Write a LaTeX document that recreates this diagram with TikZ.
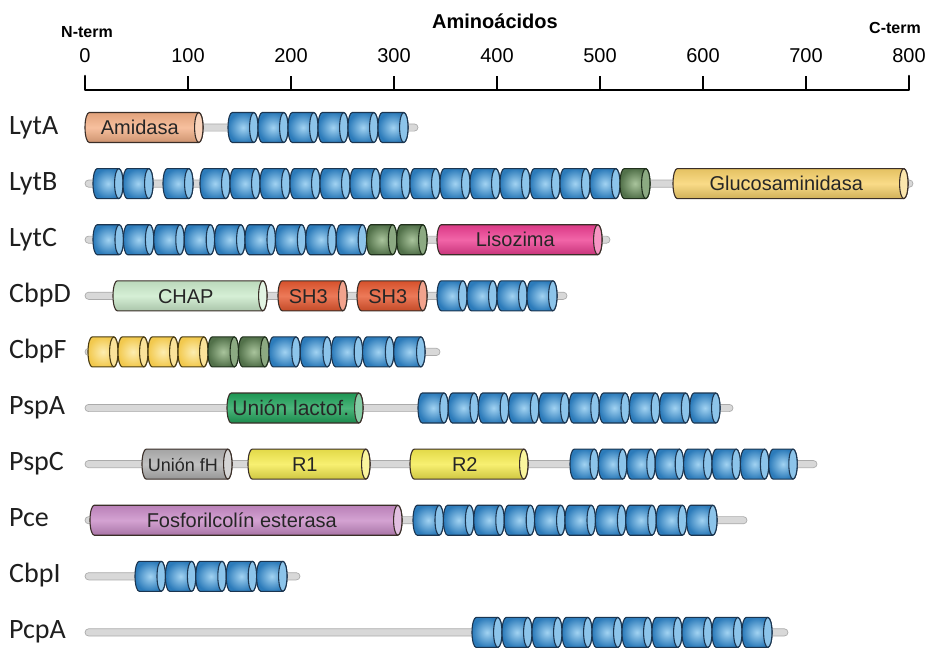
\documentclass[tikz,border=0pt]{standalone}
\usepackage{fontspec}
\setmainfont{Liberation Sans}
\newfontfamily\lblfont{Carlito}

% palette
\definecolor{blueO}{HTML}{1B3550}
\definecolor{blueM}{HTML}{2C7BBA}
\definecolor{blueL}{HTML}{A2D3F2}
\definecolor{blueCap}{HTML}{8CC4EA}
\definecolor{grnO}{HTML}{20301C}
\definecolor{grnM}{HTML}{52714A}
\definecolor{grnL}{HTML}{A9C49C}
\definecolor{grnCap}{HTML}{8CAA82}
\definecolor{yelO}{HTML}{4A3C12}
\definecolor{yelM}{HTML}{F2C94E}
\definecolor{yelL}{HTML}{FCEDB0}
\definecolor{yelCap}{HTML}{FAE39A}
\definecolor{linkF}{HTML}{D8D8D8}
\definecolor{linkD}{HTML}{ABABAB}
\definecolor{amiC}{HTML}{F5B086}
\definecolor{gluC}{HTML}{F8D26A}
\definecolor{lisC}{HTML}{EE3E92}
\definecolor{chapC}{HTML}{CBEBCB}
\definecolor{shC}{HTML}{E8582F}
\definecolor{lacC}{HTML}{1FA35A}
\definecolor{fhC}{HTML}{B2B2B2}
\definecolor{rC}{HTML}{F6EC4E}
\definecolor{fosC}{HTML}{C98BC7}
\definecolor{domO}{HTML}{3A2E28}

\newcommand\rx{4.2}
\newcommand\hh{15}

% one cylinder: x1, x2, y, body style, cap style
\newcommand\ProtSeg[5]{%
  \path[seg,#4] (#1+\rx,#3+\hh) -- (#2-\rx,#3+\hh)
    arc[start angle=90,end angle=-90,x radius=\rx,y radius=\hh]
    -- (#1+\rx,#3-\hh)
    arc[start angle=270,end angle=90,x radius=\rx,y radius=\hh] -- cycle;
  \path[seg,#5] (#2-\rx,#3) ellipse[x radius=\rx,y radius=\hh];
}
% run of n equal cylinders: x0, width, n, y, body style, cap style
\newcommand\ProtReps[6]{%
  \foreach \i in {1,...,#3}{%
    \pgfmathsetmacro\xa{#1+(\i-1)*#2}%
    \pgfmathsetmacro\xb{#1+\i*#2}%
    \ProtSeg{\xa}{\xb}{#4}{#5}{#6}%
  }%
}
% linker bar: x1, x2, y
\newcommand\ProtLink[3]{%
  \path[link] (#1,#3-3.6) rectangle (#2,#3+3.6);
}
% labelled domain: name, x1, x2, y, colour, text
\newcommand\ProtDom[6]{%
  \ProtSeg{#2}{#3}{#4}{draw=domO,top color=#5!92!black,bottom color=#5!84!black,middle color=#5!80!white}{draw=domO,fill=#5!55!white}
  \node[domtext] (#1) at ({(#2+#3)/2-\rx},#4-7.2) {#6};
}

\tikzset{
  seg/.style={line width=1.1pt,line join=round},
  blueB/.style={draw=blueO,inner color=blueL,outer color=blueM},
  blueC/.style={draw=blueO,fill=blueCap},
  grnB/.style={draw=grnO,inner color=grnL,outer color=grnM},
  grnC/.style={draw=grnO,fill=grnCap},
  yelB/.style={draw=yelO,inner color=yelL,outer color=yelM},
  yelC/.style={draw=yelO,fill=yelCap},
  link/.style={fill=linkF,draw=linkD,line width=0.7pt,rounded corners=3.6},
  domtext/.style={anchor=base,inner sep=0pt,font=\fontsize{20}{20}\selectfont,text=black!85},
  rowlabel/.style={anchor=base west,inner sep=0pt,font=\lblfont\fontsize{28}{28}\selectfont,text=black!88},
  ticklabel/.style={anchor=base,inner sep=0pt,font=\fontsize{20}{20}\selectfont},
}

\begin{document}
\begin{tikzpicture}[x=1pt,y=1pt]
\useasboundingbox (0,0) rectangle (935,-648);

% ---- amino-acid scale ----
\node[anchor=base,inner sep=0pt,font=\bfseries\fontsize{20}{20}\selectfont] (aa) at (495,-28) {Aminoácidos};
\node[anchor=base,inner sep=0pt,font=\bfseries\fontsize{16}{16}\selectfont] (nterm) at (87,-37) {N-term};
\node[anchor=base,inner sep=0pt,font=\bfseries\fontsize{16}{16}\selectfont] (cterm) at (895,-33) {C-term};
\draw[line width=2.6pt,line cap=round,line join=round] (85,-76) -- (85,-90) -- (909,-90) -- (909,-76);
\foreach \v in {1,...,7}{\draw[line width=2pt] (85+\v*103,-90) -- ++(0,14);}
\foreach \v in {0,...,8}{%
  \pgfmathtruncatemacro\lab{\v*100}%
  \node[ticklabel] (tick\v) at (85+\v*103,-62) {\lab};
}

% ---- row labels ----
\node[rowlabel] (lLytA) at (9,-134) {LytA};
\node[rowlabel] (lLytB) at (9,-190.1) {LytB};
\node[rowlabel] (lLytC) at (9,-246.2) {LytC};
\node[rowlabel] (lCbpD) at (9,-302.3) {CbpD};
\node[rowlabel] (lCbpF) at (9,-358.4) {CbpF};
\node[rowlabel] (lPspA) at (9,-414.5) {PspA};
\node[rowlabel] (lPspC) at (9,-470.6) {PspC};
\node[rowlabel] (lPce) at (9,-526.7) {Pce};
\node[rowlabel] (lCbpI) at (9,-582.8) {CbpI};
\node[rowlabel] (lPcpA) at (9,-638.9) {PcpA};

% ---- LytA ----
\ProtLink{85}{418}{-127.5}
\ProtDom{dAmi}{85}{203}{-127.5}{amiC}{Amidasa}
\ProtReps{228}{30}{6}{-127.5}{blueB}{blueC}

% ---- LytB ----
\ProtLink{85}{913}{-183.6}
\ProtReps{93}{30}{2}{-183.6}{blueB}{blueC}
\ProtReps{163}{30}{1}{-183.6}{blueB}{blueC}
\ProtReps{200}{30}{14}{-183.6}{blueB}{blueC}
\ProtReps{620}{30}{1}{-183.6}{grnB}{grnC}
\ProtDom{dGlu}{673}{908}{-183.6}{gluC}{Glucosaminidasa}

% ---- LytC ----
\ProtLink{85}{610}{-239.7}
\ProtReps{93}{30.4}{9}{-239.7}{blueB}{blueC}
\ProtReps{366.6}{30.2}{2}{-239.7}{grnB}{grnC}
\ProtDom{dLis}{437}{602}{-239.7}{lisC}{Lisozima}

% ---- CbpD ----
\ProtLink{85}{567}{-295.8}
\ProtDom{dChap}{113}{267}{-295.8}{chapC}{CHAP}
\ProtDom{dShA}{278}{347}{-295.8}{shC}{SH3}
\ProtDom{dShB}{357}{427}{-295.8}{shC}{SH3}
\ProtReps{437}{30}{4}{-295.8}{blueB}{blueC}

% ---- CbpF ----
\ProtLink{85}{440}{-351.9}
\ProtReps{88}{30}{4}{-351.9}{yelB}{yelC}
\ProtReps{208}{30.5}{2}{-351.9}{grnB}{grnC}
\ProtReps{269}{31.2}{5}{-351.9}{blueB}{blueC}

% ---- PspA ----
\ProtLink{85}{733}{-408}
\ProtDom{dLac}{227}{363}{-408}{lacC}{\fontsize{21}{21}\selectfont Unión lactof.}
\ProtReps{418}{30.2}{10}{-408}{blueB}{blueC}

% ---- PspC ----
\ProtLink{85}{817}{-464.1}
\ProtDom{dFh}{142}{232}{-464.1}{fhC}{\fontsize{18}{18}\selectfont Unión fH}
\ProtDom{dRa}{248}{370}{-464.1}{rC}{R1}
\ProtDom{dRb}{410}{528}{-464.1}{rC}{R2}
\ProtReps{570}{28.4}{8}{-464.1}{blueB}{blueC}

% ---- Pce ----
\ProtLink{85}{747}{-520.2}
\ProtDom{dFos}{90}{402}{-520.2}{fosC}{Fosforilcolín esterasa}
\ProtReps{413}{30.4}{10}{-520.2}{blueB}{blueC}

% ---- CbpI ----
\ProtLink{85}{300}{-576.3}
\ProtReps{135}{30.4}{5}{-576.3}{blueB}{blueC}

% ---- PcpA ----
\ProtLink{85}{788}{-632.4}
\ProtReps{472}{30}{10}{-632.4}{blueB}{blueC}
\end{tikzpicture}
\end{document}
